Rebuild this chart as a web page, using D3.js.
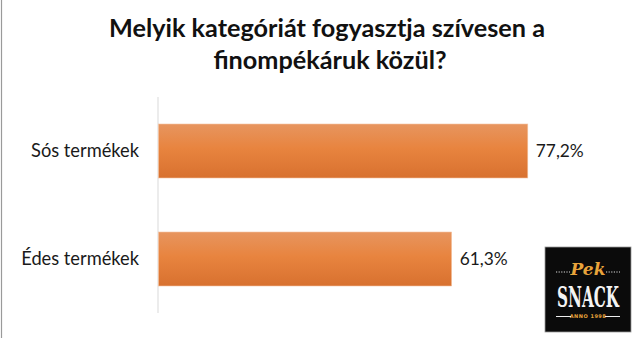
<!DOCTYPE html>
<html>
<head>
<meta charset="utf-8">
<script src="https://cdn.jsdelivr.net/npm/d3@7"></script>
<style>
  html, body { margin: 0; padding: 0; background: #fff; }
  svg { display: block; }
</style>
</head>
<body>
<svg id="chart" width="634" height="338"></svg>
<script>
// ---- data ----
const titleLines = ["Melyik kategóriát fogyasztja szívesen a", "finompékáruk közül?"];
const categories = ["Sós termékek", "Édes termékek"];
const values = [77.2, 61.3];
const xDomain = [0, 100];

const W = 634, H = 338;
const svg = d3.select("#chart");
const FONT = "Lato, 'Open Sans', sans-serif";

const huFormat = d3.formatLocale({decimal: ",", thousands: " ", grouping: [3], currency: ["", " Ft"]}).format(".1f");

function fitWidth(sel, target) {
  const w = sel.node().getComputedTextLength();
  const fs = parseFloat(sel.attr("font-size"));
  return fs * target / w;
}

// left frame line
svg.append("line").attr("x1", 1.5).attr("x2", 1.5).attr("y1", 0).attr("y2", H)
  .attr("stroke", "#9a9a9a").attr("stroke-width", 1.2);

// gradient
const defs = svg.append("defs");
const grad = defs.append("linearGradient").attr("id", "barGrad")
  .attr("x1", 0).attr("y1", 0).attr("x2", 0).attr("y2", 1);
grad.append("stop").attr("offset", "0%").attr("stop-color", "#E7955F");
grad.append("stop").attr("offset", "45%").attr("stop-color", "#E8843F");
grad.append("stop").attr("offset", "100%").attr("stop-color", "#D8712F");

// title
const title = svg.append("g");
const t1 = title.append("text").attr("x", 327).attr("y", 37)
  .attr("text-anchor", "middle").attr("font-family", FONT).attr("font-weight", "bold")
  .attr("font-size", 22).attr("fill", "#111").text(titleLines[0]);
const tfs = fitWidth(t1, 436);
t1.attr("font-size", tfs);
title.append("text").attr("x", 330).attr("y", 69)
  .attr("text-anchor", "middle").attr("font-family", FONT).attr("font-weight", "bold")
  .attr("font-size", tfs).attr("fill", "#111").text(titleLines[1]);

// scales
const x = d3.scaleLinear().domain(xDomain).range([158, 637]);
const y = d3.scaleBand().domain(categories).range([97, 313]).paddingInner(0.5).paddingOuter(0.25);

// axis line
svg.append("line").attr("x1", x(0)).attr("x2", x(0)).attr("y1", y.range()[0]).attr("y2", y.range()[1])
  .attr("stroke", "#D9D9D9").attr("stroke-width", 1);

// bars
const data = categories.map((c, i) => ({c, v: values[i]}));
svg.append("g").selectAll("rect").data(data).join("rect")
  .attr("x", x(0) + 0.5)
  .attr("y", d => y(d.c))
  .attr("width", d => x(d.v) - x(0) - 0.5)
  .attr("height", y.bandwidth())
  .attr("fill", "url(#barGrad)")
  .attr("stroke", "#F3C4A2").attr("stroke-width", 0.6);

// category labels
const cats = svg.append("g").selectAll("text").data(data).join("text")
  .attr("x", x(0) - 19)
  .attr("y", d => y(d.c) + y.bandwidth() / 2)
  .attr("dy", "0.35em")
  .attr("text-anchor", "end")
  .attr("font-family", FONT).attr("font-size", 18).attr("fill", "#1a1a1a")
  .text(d => d.c);
const cfs = fitWidth(d3.select(cats.nodes()[0]), 108);
cats.attr("font-size", cfs);

// value labels
const vals = svg.append("g").selectAll("text").data(data).join("text")
  .attr("x", d => x(d.v) + 8)
  .attr("y", d => y(d.c) + y.bandwidth() / 2)
  .attr("dy", "0.35em")
  .attr("font-family", FONT).attr("font-size", 18).attr("fill", "#1a1a1a")
  .text(d => huFormat(d.v) + "%");
const vfs = fitWidth(d3.select(vals.nodes()[0]), 48);
vals.attr("font-size", vfs);

// logo (decoration)
const logo = svg.append("g").attr("transform", "translate(545,247)");
logo.append("rect").attr("x", 0).attr("y", 0).attr("width", 86).attr("height", 85)
  .attr("fill", "#0b0b0b").attr("stroke", "#9a9a9a").attr("stroke-width", 0.8);
logo.append("text").attr("x", 43).attr("y", 28).attr("text-anchor", "middle")
  .attr("font-family", "'DejaVu Serif', serif").attr("font-style", "italic").attr("font-weight", "bold")
  .attr("font-size", 17).attr("fill", "#E9A43B").text("Pek");
[[11, 25], [61, 75]].forEach(([a, b]) => {
  logo.append("line").attr("x1", a).attr("x2", b).attr("y1", 25).attr("y2", 25)
    .attr("stroke", "#ddd").attr("stroke-width", 1).attr("stroke-dasharray", "1.2,1.4");
});
const snackG = logo.append("g").attr("transform", "translate(43,60) scale(1,1.6)");
const snack = snackG.append("text").attr("x", 0).attr("y", 0).attr("text-anchor", "middle")
  .attr("font-family", "'DejaVu Serif Condensed', 'DejaVu Serif', serif").attr("font-weight", "bold")
  .attr("font-size", 20).attr("fill", "#f4f4f4").text("SNACK");
snack.attr("font-size", fitWidth(snack, 62));
logo.append("text").attr("x", 43).attr("y", 71).attr("text-anchor", "middle")
  .attr("font-family", "'DejaVu Sans', sans-serif").attr("font-weight", "bold")
  .attr("font-size", 5).attr("fill", "#E9A43B").attr("letter-spacing", 0.5).text("ANNO 1998");
[[11, 26], [60, 75]].forEach(([a, b]) => {
  logo.append("line").attr("x1", a).attr("x2", b).attr("y1", 69.5).attr("y2", 69.5)
    .attr("stroke", "#eee").attr("stroke-width", 1);
});
</script>
</body>
</html>
